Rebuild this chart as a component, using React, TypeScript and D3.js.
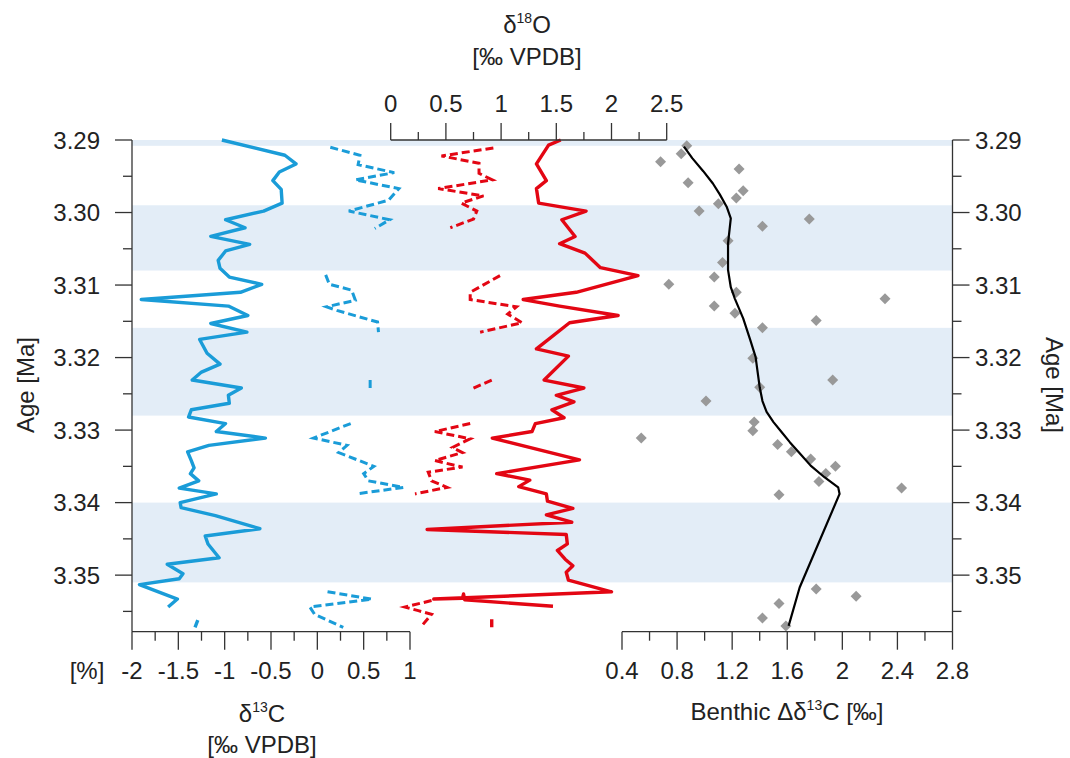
import React from 'react';
import * as d3 from 'd3';

const W = 1070, H = 758;
const FONT = '"Liberation Sans", Arial, sans-serif';

// ---- tick definitions ----
const ageMajor = [3.29, 3.30, 3.31, 3.32, 3.33, 3.34, 3.35];
const ageMinor = [3.295, 3.305, 3.315, 3.325, 3.335, 3.345, 3.355];
const ageLabels = ['3.29', '3.30', '3.31', '3.32', '3.33', '3.34', '3.35'];
const d13CMajor = [-2, -1.5, -1, -0.5, 0, 0.5, 1];
const d13CMinor = [-1.75, -1.25, -0.75, -0.25, 0.25, 0.75];
const d13CLabels = ['-2', '-1.5', '-1', '-0.5', '0', '0.5', '1'];
const d18OMajor = [0, 0.5, 1, 1.5, 2, 2.5];
const d18OMinor = [0.25, 0.75, 1.25, 1.75, 2.25];
const d18OLabels = ['0', '0.5', '1', '1.5', '2', '2.5'];
const benMajor = [0.4, 0.8, 1.2, 1.6, 2, 2.4, 2.8];
const benMinor = [0.6, 1.0, 1.4, 1.8, 2.2, 2.6];
const benLabels = ['0.4', '0.8', '1.2', '1.6', '2', '2.4', '2.8'];

// ---- shaded intervals (age from, age to) ----
const bands: [number, number][] = [[3.29, 3.2908], [3.2990, 3.3080], [3.3159, 3.3280], [3.3400, 3.3510]];

// ---- series: [age Ma, value]; NaN = gap ----
const d13CSolid: [number, number][] = [
  [3.2900, -1.03], [3.2921, -0.35], [3.2933, -0.23], [3.2944, -0.41], [3.2956, -0.48], [3.2968, -0.39],
  [3.2987, -0.38], [3.2998, -0.58], [3.3010, -0.99], [3.3021, -0.78], [3.3033, -1.15], [3.3044, -0.73],
  [3.3053, -0.99], [3.3066, -1.07], [3.3077, -1.05], [3.3089, -0.95], [3.3099, -0.60], [3.3110, -0.83],
  [3.3120, -1.90], [3.3129, -0.96], [3.3142, -0.75], [3.3153, -1.15], [3.3165, -0.76], [3.3175, -1.27],
  [3.3194, -1.19], [3.3209, -1.05], [3.3220, -1.25], [3.3231, -1.35], [3.3242, -0.82], [3.3252, -0.96],
  [3.3263, -0.95], [3.3272, -1.36], [3.3282, -1.39], [3.3291, -0.99], [3.3302, -1.09], [3.3311, -0.56],
  [3.3321, -1.17], [3.3330, -1.40], [3.3342, -1.36], [3.3352, -1.33], [3.3360, -1.37], [3.3370, -1.28],
  [3.3380, -1.49], [3.3388, -1.09], [3.3400, -1.48], [3.3407, -1.47], [3.3418, -1.10], [3.3436, -0.62],
  [3.3446, -1.21], [3.3457, -1.18], [3.3476, -1.06], [3.3485, -1.62], [3.3498, -1.45], [3.3505, -1.49],
  [3.3513, -1.92], [3.3533, -1.51], [3.3544, -1.61], [3.3553, NaN], [3.3562, -1.29], [3.3572, -1.32],
];

const d13CDashed: [number, number][] = [
  [3.2910, 0.14], [3.2921, 0.46], [3.2934, 0.44], [3.2945, 0.83], [3.2955, 0.41], [3.2967, 0.88],
  [3.2983, 0.77], [3.2998, 0.34], [3.3010, 0.78], [3.3022, 0.62], [3.305, NaN],
  [3.3086, 0.09], [3.3099, 0.13], [3.3107, 0.37], [3.3121, 0.41], [3.3130, 0.10], [3.3135, 0.21],
  [3.3151, 0.65], [3.3165, 0.66], [3.320, NaN],
  [3.3231, 0.57], [3.3243, 0.57], [3.327, NaN],
  [3.3291, 0.36], [3.3311, -0.04], [3.3321, 0.32], [3.3331, 0.23], [3.3350, 0.61], [3.3360, 0.50],
  [3.3370, 0.55], [3.3379, 0.93], [3.3388, 0.42], [3.345, NaN],
  [3.3523, 0.11], [3.3533, 0.59], [3.3544, -0.08], [3.3554, -0.03], [3.3572, 0.28],
];

const d18OSolid: [number, number][] = [
  [3.2900, 1.54], [3.2907, 1.43], [3.2933, 1.32], [3.2956, 1.41], [3.2967, 1.32], [3.2987, 1.34],
  [3.2998, 1.77], [3.3010, 1.55], [3.3033, 1.67], [3.3043, 1.53], [3.3056, 1.76], [3.3076, 1.90],
  [3.3087, 2.24], [3.3110, 1.68], [3.3120, 1.20], [3.3129, 1.53], [3.3142, 2.06], [3.3152, 1.62],
  [3.3188, 1.32], [3.3198, 1.61], [3.3231, 1.39], [3.3242, 1.75], [3.3252, 1.50], [3.3261, 1.66],
  [3.3272, 1.46], [3.3283, 1.57], [3.3291, 1.31], [3.3302, 1.28], [3.3311, 0.92], [3.3341, 1.71],
  [3.3360, 0.96], [3.3369, 1.26], [3.3378, 1.16], [3.3388, 1.41], [3.3398, 1.42], [3.3408, 1.65],
  [3.3417, 1.41], [3.3427, 1.64], [3.3437, 0.33], [3.3444, 1.59], [3.3457, 1.60], [3.3466, 1.51],
  [3.3478, 1.58], [3.3487, 1.65], [3.3496, 1.59], [3.3507, 1.61], [3.3523, 2.00], [3.3533, 0.39],
  [3.3532, 0.65], [3.3526, 0.66], [3.3534, 0.67], [3.3543, 1.47], [3.3553, NaN],
  [3.3561, 0.915], [3.3572, 0.915],
];

const d18ODashed: [number, number][] = [
  [3.2911, 0.93], [3.2922, 0.46], [3.2932, 0.80], [3.2946, 0.80], [3.2955, 0.92], [3.2967, 0.43],
  [3.2977, 0.84], [3.2987, 0.64], [3.2998, 0.78], [3.3009, 0.75], [3.3021, 0.54], [3.305, NaN],
  [3.3087, 0.99], [3.3110, 0.72], [3.3120, 0.72], [3.3130, 1.14], [3.3140, 1.06], [3.3152, 1.19],
  [3.3165, 0.81], [3.320, NaN],
  [3.3231, 0.915], [3.3242, 0.75], [3.327, NaN],
  [3.3291, 0.72], [3.3302, 0.40], [3.3312, 0.72], [3.3324, 0.56], [3.3331, 0.65], [3.3342, 0.40],
  [3.3351, 0.65], [3.3358, 0.34], [3.3370, 0.37], [3.3379, 0.51], [3.3388, 0.22], [3.345, NaN],
  [3.3535, 0.37], [3.3544, 0.13], [3.3549, 0.25], [3.3554, 0.37], [3.3572, 0.27],
];

const benthicPoints: [number, number][] = [
  [3.2908, 0.87], [3.2919, 0.83], [3.2930, 0.68], [3.2940, 1.25], [3.2959, 0.88], [3.2970, 1.28],
  [3.2980, 1.23], [3.2988, 1.10], [3.2998, 0.96], [3.3009, 1.76], [3.3019, 1.42], [3.3039, 1.17],
  [3.3069, 1.13], [3.3089, 1.07], [3.3099, 0.74], [3.3110, 1.23], [3.3119, 2.31], [3.3129, 1.07],
  [3.3139, 1.22], [3.3149, 1.81], [3.3159, 1.42], [3.3201, 1.35], [3.3231, 1.93], [3.3241, 1.40],
  [3.3260, 1.01], [3.3289, 1.36], [3.3301, 1.35], [3.3311, 0.54], [3.3320, 1.53], [3.3330, 1.63],
  [3.3340, 1.77], [3.3350, 1.95], [3.3360, 1.88], [3.3371, 1.83], [3.3380, 2.43], [3.3389, 1.54],
  [3.3519, 1.81], [3.3529, 2.10], [3.3539, 1.54], [3.3559, 1.42], [3.3570, 1.59],
];

const benthicSmooth: [number, number][] = [
  [3.2909, 0.85], [3.2925, 0.91], [3.2943, 0.99], [3.2960, 1.06], [3.2975, 1.11], [3.2992, 1.16],
  [3.3008, 1.19], [3.3043, 1.17], [3.3079, 1.17], [3.3103, 1.19], [3.3119, 1.22], [3.3146, 1.28],
  [3.3175, 1.33], [3.3199, 1.37], [3.3241, 1.40], [3.3260, 1.42], [3.3275, 1.45], [3.3289, 1.50],
  [3.3303, 1.56], [3.3317, 1.62], [3.3334, 1.70], [3.3349, 1.77], [3.3365, 1.87], [3.3379, 1.97],
  [3.3388, 1.98], [3.3517, 1.69], [3.3570, 1.61],
];

const BLUE = '#1a9cd8';
const RED = '#e30613';
const BAND = '#e3edf7';
const AX = '#333';
const TXT = '#222';

export default function App() {
  const y = d3.scaleLinear().domain([3.29, 3.3578]).range([140, 631.7]);
  const xC = d3.scaleLinear().domain([-2, 1]).range([132, 410]);
  const xO = d3.scaleLinear().domain([0, 2.5]).range([390.7, 666.7]);
  const xB = d3.scaleLinear().domain([0.4, 2.8]).range([622, 952.5]);

  const lineC = d3.line<[number, number]>().defined(d => !isNaN(d[1])).x(d => xC(d[1])).y(d => y(d[0]));
  const lineO = d3.line<[number, number]>().defined(d => !isNaN(d[1])).x(d => xO(d[1])).y(d => y(d[0]));
  const lineB = d3.line<[number, number]>().x(d => xB(d[1])).y(d => y(d[0]));

  const yTop = y.range()[0];
  const yBot = y.range()[1];
  const xLeft = xC.range()[0];
  const xRight = xB.range()[1];
  const fs = 24;
  const sup = 14;

  return (
    <svg width={W} height={H} style={{ position: 'absolute', left: 0, top: 0, background: '#fff' }} fontFamily={FONT}>
      <rect x={0} y={0} width={W} height={H} fill="#fff" />
      {bands.map((b, i) => (
        <rect key={i} x={xLeft} width={xRight - xLeft} y={y(b[0])} height={y(b[1]) - y(b[0])} fill={BAND} />
      ))}

      {/* data lines */}
      <path d={lineC(d13CSolid) || ''} fill="none" stroke={BLUE} strokeWidth={3.4} strokeLinejoin="round" />
      <path d={lineC(d13CDashed) || ''} fill="none" stroke={BLUE} strokeWidth={3} strokeDasharray="8 4" />
      <path d={lineO(d18OSolid) || ''} fill="none" stroke={RED} strokeWidth={3.4} strokeLinejoin="round" />
      <path d={lineO(d18ODashed) || ''} fill="none" stroke={RED} strokeWidth={3} strokeDasharray="8 4" />

      {benthicPoints.map((p, i) => {
        const cx = xB(p[1]), cy = y(p[0]), r = 5.5;
        return <path key={i} d={`M${cx},${cy - r}L${cx + r},${cy}L${cx},${cy + r}L${cx - r},${cy}Z`} fill="#999" />;
      })}
      <path d={lineB(benthicSmooth) || ''} fill="none" stroke="#000" strokeWidth={2.2} strokeLinejoin="round" />

      {/* left age axis */}
      <line x1={xLeft} x2={xLeft} y1={yTop} y2={yBot} stroke={AX} strokeWidth={1.3} />
      {ageMajor.map((a, i) => (
        <g key={'lm' + i}>
          <line x1={xLeft - 17} x2={xLeft} y1={y(a)} y2={y(a)} stroke={AX} strokeWidth={1.3} />
          <text x={100} y={y(a)} dy="0.36em" textAnchor="end" fontSize={fs} fill={TXT}>{ageLabels[i]}</text>
        </g>
      ))}
      {ageMinor.map((a, i) => (
        <line key={'ln' + i} x1={xLeft - 9} x2={xLeft} y1={y(a)} y2={y(a)} stroke={AX} strokeWidth={1.3} />
      ))}
      <text transform={`translate(34,385) rotate(-90)`} textAnchor="middle" fontSize={fs} fill={TXT}>Age [Ma]</text>

      {/* right age axis */}
      <line x1={xRight} x2={xRight} y1={yTop} y2={yBot} stroke={AX} strokeWidth={1.3} />
      {ageMajor.map((a, i) => (
        <g key={'rm' + i}>
          <line x1={xRight} x2={xRight + 17} y1={y(a)} y2={y(a)} stroke={AX} strokeWidth={1.3} />
          <text x={975} y={y(a)} dy="0.36em" textAnchor="start" fontSize={fs} fill={TXT}>{ageLabels[i]}</text>
        </g>
      ))}
      {ageMinor.map((a, i) => (
        <line key={'rn' + i} x1={xRight} x2={xRight + 9} y1={y(a)} y2={y(a)} stroke={AX} strokeWidth={1.3} />
      ))}
      <text transform={`translate(1046,385) rotate(90)`} textAnchor="middle" fontSize={fs} fill={TXT}>Age [Ma]</text>

      {/* top d18O axis */}
      <line x1={xO(0)} x2={xO(2.5)} y1={yTop} y2={yTop} stroke={AX} strokeWidth={1.3} />
      {d18OMajor.map((v, i) => (
        <g key={'om' + i}>
          <line x1={xO(v)} x2={xO(v)} y1={yTop - 17} y2={yTop} stroke={AX} strokeWidth={1.3} />
          <text x={xO(v)} y={112} textAnchor="middle" fontSize={fs} fill={TXT}>{d18OLabels[i]}</text>
        </g>
      ))}
      {d18OMinor.map((v, i) => (
        <line key={'on' + i} x1={xO(v)} x2={xO(v)} y1={yTop - 8} y2={yTop} stroke={AX} strokeWidth={1.3} />
      ))}
      <text x={527} y={33} textAnchor="middle" fontSize={fs} fill={TXT}>
        δ<tspan fontSize={sup} dy={-10}>18</tspan><tspan dy={10}>O</tspan>
      </text>
      <text x={527} y={65} textAnchor="middle" fontSize={fs} fill={TXT}>[‰ VPDB]</text>

      {/* bottom d13C axis */}
      <line x1={xC(-2)} x2={xC(1)} y1={yBot} y2={yBot} stroke={AX} strokeWidth={1.3} />
      {d13CMajor.map((v, i) => (
        <g key={'cm' + i}>
          <line x1={xC(v)} x2={xC(v)} y1={yBot} y2={yBot + 18} stroke={AX} strokeWidth={1.3} />
          <text x={xC(v)} y={679} textAnchor="middle" fontSize={fs} fill={TXT}>{d13CLabels[i]}</text>
        </g>
      ))}
      {d13CMinor.map((v, i) => (
        <line key={'cn' + i} x1={xC(v)} x2={xC(v)} y1={yBot} y2={yBot + 9} stroke={AX} strokeWidth={1.3} />
      ))}
      <text x={87} y={679} textAnchor="middle" fontSize={fs} fill={TXT}>[%]</text>
      <text x={262} y={722} textAnchor="middle" fontSize={fs} fill={TXT}>
        δ<tspan fontSize={sup} dy={-10}>13</tspan><tspan dy={10}>C</tspan>
      </text>
      <text x={262} y={753} textAnchor="middle" fontSize={fs} fill={TXT}>[‰ VPDB]</text>

      {/* bottom benthic axis */}
      <line x1={xB(0.4)} x2={xB(2.8)} y1={yBot} y2={yBot} stroke={AX} strokeWidth={1.3} />
      {benMajor.map((v, i) => (
        <g key={'bm' + i}>
          <line x1={xB(v)} x2={xB(v)} y1={yBot} y2={yBot + 18} stroke={AX} strokeWidth={1.3} />
          <text x={xB(v)} y={679} textAnchor="middle" fontSize={fs} fill={TXT}>{benLabels[i]}</text>
        </g>
      ))}
      {benMinor.map((v, i) => (
        <line key={'bn' + i} x1={xB(v)} x2={xB(v)} y1={yBot} y2={yBot + 9} stroke={AX} strokeWidth={1.3} />
      ))}
      <text x={787} y={720} textAnchor="middle" fontSize={fs} fill={TXT}>
        Benthic Δδ<tspan fontSize={sup} dy={-10}>13</tspan><tspan dy={10}>C [‰]</tspan>
      </text>
    </svg>
  );
}
